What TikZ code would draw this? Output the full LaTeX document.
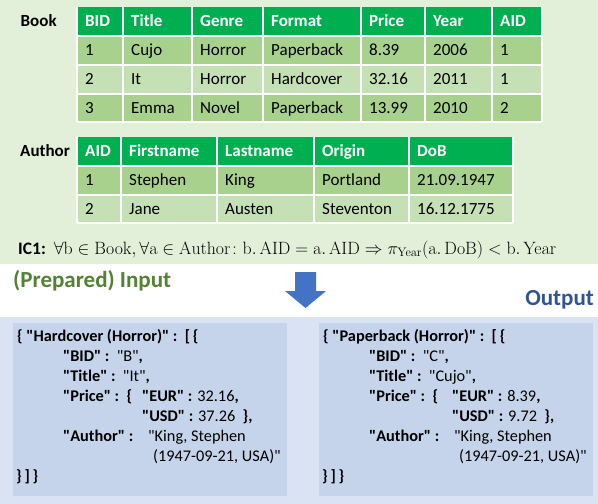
\documentclass[tikz,border=0pt]{standalone}
\usepackage{amsmath}
\usepackage[no-math]{fontspec}
\setmainfont{Carlito}[Ligatures=TeXOff]
\usepackage{tikz}
\usepackage{xcolor}

\definecolor{bgGreen}{HTML}{E2F0D9}
\definecolor{headGreen}{HTML}{00B050}
\definecolor{rowDark}{HTML}{A9D18E}
\definecolor{rowLight}{HTML}{C5E0B4}
\definecolor{bgBlue}{HTML}{DAE3F3}
\definecolor{boxBlue}{HTML}{C5D4EB}
\definecolor{arrowBlue}{HTML}{4472C4}
\definecolor{inGreen}{HTML}{548235}
\definecolor{outBlue}{HTML}{2F5597}

% one JSON output box: #1 name, #2 shift, #3 group, #4 BID, #5 Title, #6 EUR, #7 USD, #8 x of EUR
\newcommand{\jsonbox}[8]{%
\begin{scope}[xshift=#2]
\fill[boxBlue] (13,-323) rectangle (287,-496);
\node[json] (#1-head) at (17,-341.5) {\bfseries\{ "#3" :\ \ [\,\{};
\node[json] (#1-bid) at (63,-361.5) {\bfseries"BID" :\ \ \mdseries"#4"\bfseries,};
\node[json] (#1-title) at (63,-381.5) {\bfseries"Title" :\ \ \mdseries"#5"\bfseries,};
\node[json] (#1-price) at (63,-401.5) {\bfseries"Price" :\ \ \{};
\node[json] (#1-eur) at (#8,-401.5) {\bfseries"EUR" : \mdseries#6\bfseries,};
\node[json] (#1-usd) at (#8,-421.5) {\bfseries"USD" : \mdseries#7\ \ \bfseries\},};
\node[json] (#1-author) at (63,-441.5) {\bfseries"Author" :};
\node[json] (#1-name) at (148,-441.5) {"King, Stephen};
\node[json] (#1-born) at (153,-461.5) {(1947-09-21, USA)"};
\node[json] (#1-close) at (16,-481.5) {\bfseries\}\,]\,\}};
\end{scope}}

\begin{document}
\begin{tikzpicture}[x=1pt,y=1pt,
  grid/.style={white, line width=1.2},
  cell/.style={anchor=base west, inner sep=0, font=\fontsize{17}{20}\selectfont},
  head/.style={cell, text=white, font=\fontsize{17}{20}\selectfont\bfseries},
  tname/.style={cell, font=\fontsize{17}{20}\selectfont\bfseries},
  json/.style={anchor=base west, inner sep=0, font=\fontsize{16.3}{19}\selectfont},
  caption/.style={anchor=base west, inner sep=0, font=\fontsize{23}{27}\selectfont\bfseries}]
\useasboundingbox (0,0) rectangle (598,-504);
\fill[bgGreen] (0,0) rectangle (598,-264);
\fill[bgBlue] (0,-317) rectangle (598,-504);

% Book
\node[tname] (book) at (20.5,-26.7) {Book};
\fill[headGreen] (77,-7) rectangle (542,-35);
\fill[rowDark] (77,-35) rectangle (542,-122);
\fill[rowLight] (77,-65) rectangle (542,-94);
\foreach \x in {77,123,192,263,361,425,492,542} \draw[grid] (\x,-7) -- (\x,-122);
\draw[grid, line width=2] (77,-35.5) -- (542,-35.5);
\foreach \y in {65,94,122} \draw[grid] (77,-\y) -- (542,-\y);
\foreach \x/\t [count=\i] in {77/BID,123/Title,192/Genre,263/Format,361/Price,425/Year,492/AID}
  \node[head] (book-h\i) at (\x+8,-26.7) {\t};
\foreach \y/\a/\b/\c/\d/\e/\f/\g [count=\r] in {55/1/Cujo/Horror/Paperback/8.39/2006/1,
    84/2/It/Horror/Hardcover/32.16/2011/1, 113/3/Emma/Novel/Paperback/13.99/2010/2} {
  \node[cell] (book-\r-1) at (85,-\y) {\a};
  \node[cell] (book-\r-2) at (131,-\y) {\b};
  \node[cell] (book-\r-3) at (200,-\y) {\c};
  \node[cell] (book-\r-4) at (271,-\y) {\d};
  \node[cell] (book-\r-5) at (369,-\y) {\e};
  \node[cell] (book-\r-6) at (433,-\y) {\f};
  \node[cell] (book-\r-7) at (500,-\y) {\g};
}

% Author
\node[tname] (author) at (20,-156.7) {Author};
\fill[headGreen] (77,-137) rectangle (513,-165);
\fill[rowDark] (77,-165) rectangle (513,-194.5);
\fill[rowLight] (77,-194.5) rectangle (513,-223);
\foreach \x in {77,121,217,314,409,513} \draw[grid] (\x,-137) -- (\x,-223);
\draw[grid, line width=2] (77,-165.5) -- (513,-165.5);
\foreach \y in {195,223} \draw[grid] (77,-\y) -- (513,-\y);
\foreach \x/\t [count=\i] in {77/AID,121/Firstname,217/Lastname,314/Origin,409/DoB}
  \node[head] (auth-h\i) at (\x+8,-156.7) {\t};
\foreach \y/\a/\b/\c/\d/\e [count=\r] in {185.3/1/Stephen/King/Portland/21.09.1947,
    214/2/Jane/Austen/Steventon/16.12.1775} {
  \node[cell] (auth-\r-1) at (85,-\y) {\a};
  \node[cell] (auth-\r-2) at (129,-\y) {\b};
  \node[cell] (auth-\r-3) at (225,-\y) {\c};
  \node[cell] (auth-\r-4) at (322,-\y) {\d};
  \node[cell] (auth-\r-5) at (417,-\y) {\e};
}

% constraint
\node[cell, scale=1.03] (ic1) at (18,-254) {\textbf{IC1:}\ \ $\forall\mathrm{b}\in\mathrm{Book},\forall\mathrm{a}\in\mathrm{Author}\colon\mathrm{b.\,AID}=\mathrm{a.\,AID}\Rightarrow\pi_{\mathrm{Year}}(\mathrm{a.\,DoB})<\mathrm{b.\,Year}$};

% input / output
\node[caption, text=inGreen] (input) at (13,-287) {(Prepared) Input};
\node[caption, text=outBlue, anchor=base east] (output) at (594,-305) {Output};
\fill[arrowBlue] (295,-272) -- (316,-272) -- (316,-291) -- (326,-291) -- (305.5,-308)
  -- (285,-291) -- (295,-291) -- cycle;

\jsonbox{hc}{0pt}{Hardcover (Horror)}{B}{It}{32.16}{37.26}{142}
\jsonbox{pb}{306pt}{Paperback (Horror)}{C}{Cujo}{8.39}{9.72}{146}
\end{tikzpicture}
\end{document}
